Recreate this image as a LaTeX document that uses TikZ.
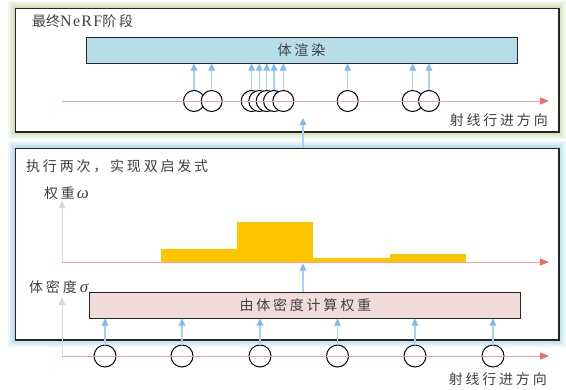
\documentclass[tikz,border=0pt]{standalone}
\usepackage{fontspec}
\setmainfont{Liberation Serif}
\newfontfamily\cjk[LetterSpace=20]{Noto Sans CJK SC}
\newfontfamily\cjknarrow{Noto Sans CJK SC}
\newfontfamily\lat[LetterSpace=8]{Liberation Serif}
\newfontfamily\grk{Liberation Serif}
\usetikzlibrary{arrows.meta,backgrounds}
\definecolor{txtc}{HTML}{404040}
\definecolor{glowg}{HTML}{C9DAA6}
\definecolor{glowb}{HTML}{A9D8E6}
\definecolor{renderc}{HTML}{B7DDE8}
\definecolor{weightc}{HTML}{F2DCDB}
\definecolor{barc}{HTML}{FFC600}
\definecolor{rayc}{HTML}{F4A39C}
\definecolor{raytip}{HTML}{F26B63}
\definecolor{arrc}{HTML}{A6D0F6}
\definecolor{arrtip}{HTML}{7DBAF2}
\definecolor{axc}{HTML}{D9D9D9}
\tikzset{
  panel/.style={draw=black!85, line width=1pt, fill=white, inner sep=0pt, anchor=north west},
  procbox/.style={draw=black!85, line width=1pt, inner sep=0pt, minimum width=431pt, minimum height=26pt,
    font=\fontsize{14}{16}\selectfont\cjk, text=txtc},
  lbl/.style={font=\fontsize{14}{16}\selectfont\cjk, text=txtc, inner sep=0pt},
  sample/.style={circle, draw=black, line width=1pt, fill=white, inner sep=0pt},
  upar/.style={draw=arrc, line width=1.2pt, -{Triangle[length=7pt,width=6.5pt,fill=arrtip,color=arrtip]}},
  rayline/.style={draw=rayc, line width=1pt, -{Triangle[length=9pt,width=7pt,fill=raytip,color=raytip]}},
  axline/.style={draw=axc, line width=1pt, -{Triangle[length=8pt,width=6.5pt]}},
  bar/.style={fill=barc, draw=none}
}
\begin{document}
\begin{tikzpicture}[x=1pt,y=-1pt]
\useasboundingbox (0,0) rectangle (566,389);

% panels
\node[panel, minimum width=543pt, minimum height=123pt] (final) at (15,8) {};
\node[panel, minimum width=543pt, minimum height=191pt] (twice) at (15,148) {};

\begin{scope}[on background layer]
  \foreach \w/\o in {14/0.22,10/0.3,6/0.4,2.5/0.6}{
    \draw[glowg, line width=\w pt, opacity=\o] (final.north west) rectangle (final.south east);
    \draw[glowb, line width=\w pt, opacity=\o] (twice.north west) rectangle (twice.south east);
  }
\end{scope}
\draw[black!85, line width=1pt] (final.north west) rectangle (final.south east);
\draw[black!85, line width=1pt] (twice.north west) rectangle (twice.south east);

% ---------- final NeRF stage ----------
\node[lbl, anchor=west] (ttl1) at (32,21) {{\cjknarrow 最终}{\fontsize{16}{17}\selectfont\lat NeRF}{\cjk 阶段}};
\node[procbox, fill=renderc] (render) at (301.5,50) {体渲染};

\foreach \n/\x in {a/194,b/211.7,c/251.7,d/259.3,e/266.7,f/274,g/283.3,h/347.7,i/412.7,j/429}{
  \node[sample, minimum size=21pt] (s\n) at (\x,101) {};
}
\coordinate (r1s) at (62,101);
\coordinate (r1e) at (549,101);
\draw[rayline] (r1s) -- (r1e);
\foreach \n in {a,b,c,d,e,f,g,h,i,j}{
  \draw[upar] (s\n.north) -- (s\n.north |- render.south);
}
\node[lbl, anchor=east] (dir1) at (548,120) {射线行进方向};

% ---------- coarse stage ----------
\node[lbl, anchor=west] (ttl2) at (26,166) {执行两次，实现双启发式};
\node[lbl, anchor=west] (wlab) at (44,193) {权重\hspace{2pt}{\fontsize{17}{18}\selectfont\grk\itshape ω}};

\coordinate (w0) at (62,262);
\coordinate (wy) at (62,200);
\coordinate (wx) at (549,262);
\fill[bar] (160.7,261.5) rectangle (236.7,249);
\fill[bar] (236.7,261.5) rectangle (313.3,222);
\fill[bar] (313.3,261.5) rectangle (390,258);
\fill[bar] (390,261.5) rectangle (466,254);
\draw[axline] (w0) -- (wy);
\draw[rayline] (w0) -- (wx);

\node[lbl, anchor=west] (slab) at (29,287) {体密度\hspace{3pt}{\fontsize{17}{18}\selectfont\grk\itshape σ}};
\node[procbox, fill=weightc] (weights) at (305.3,305) {由体密度计算权重};

\coordinate (hist) at (303,263.5);
\draw[upar] (weights.north -| hist) -- (hist);
\coordinate (up2) at (303,118);
\draw[upar] (twice.north -| up2) -- (up2);

% ---------- uniform samples ----------
\foreach \n/\x in {1/105,2/182,3/260,4/337.5,5/415,6/493}{
  \node[sample, minimum size=22pt] (u\n) at (\x,356) {};
}
\coordinate (r2s) at (62,356);
\coordinate (r2y) at (62,297);
\coordinate (r2e) at (549,356);
\draw[axline] (r2s) -- (r2y);
\draw[rayline] (r2s) -- (r2e);
\foreach \n in {1,...,6}{
  \draw[upar] (u\n.north) -- (u\n.north |- weights.south);
}
\node[lbl, anchor=east] (dir2) at (547,379) {射线行进方向};
\end{tikzpicture}
\end{document}
